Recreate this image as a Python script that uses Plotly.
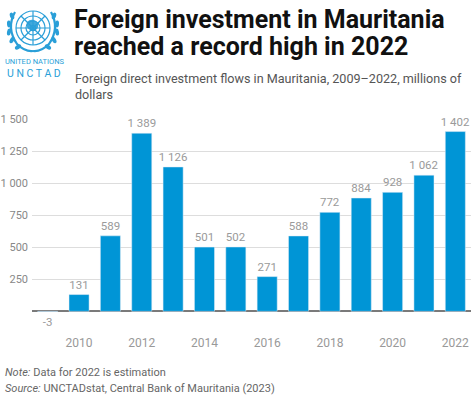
import base64
import plotly.graph_objects as go

years = [2009, 2010, 2011, 2012, 2013, 2014, 2015, 2016, 2017, 2018, 2019, 2020, 2021, 2022]
fdi = [-3, 131, 589, 1389, 1126, 501, 502, 271, 588, 772, 884, 928, 1062, 1402]
x_ticks = [2010, 2012, 2014, 2016, 2018, 2020, 2022]
y_ticks = [250, 500, 750, 1000, 1250, 1500]

W, H = 474, 396
L, R, T, B = 32, 3, 119, 84

BLUE = "#0095D6"
LOGO = "#2A9FD8"

fig = go.Figure()
fig.add_trace(go.Bar(
    x=years, y=fdi, marker_color=BLUE, width=0.64,
    texttemplate="%{y:,}", textposition="outside", constraintext="none",
    textfont=dict(family="Roboto", size=11.5, color="#9a9a9a"),
    cliponaxis=False, hoverinfo="skip",
))

# UN emblem as SVG image
svg = f'''<svg xmlns="http://www.w3.org/2000/svg" width="60" height="54" viewBox="0 0 60 54">
<g fill="none" stroke="{LOGO}" stroke-width="1.2">
<circle cx="30" cy="26" r="17"/>
<circle cx="30" cy="26" r="12"/>
<circle cx="30" cy="26" r="7"/>
<circle cx="30" cy="26" r="2.5"/>
<line x1="13" y1="26" x2="47" y2="26"/>
<line x1="30" y1="9" x2="30" y2="43"/>
<line x1="18" y1="14" x2="42" y2="38"/>
<line x1="42" y1="14" x2="18" y2="38"/>
<path d="M12 10 Q3 26 14 42 Q22 50 30 49" stroke-width="2.2"/>
<path d="M48 10 Q57 26 46 42 Q38 50 30 49" stroke-width="2.2"/>
</g>
<g fill="{LOGO}">
<ellipse cx="9" cy="14" rx="2" ry="3.5" transform="rotate(-20 9 14)"/>
<ellipse cx="6" cy="22" rx="2" ry="3.5" transform="rotate(-5 6 22)"/>
<ellipse cx="6" cy="30" rx="2" ry="3.5" transform="rotate(10 6 30)"/>
<ellipse cx="9" cy="38" rx="2" ry="3.5" transform="rotate(30 9 38)"/>
<ellipse cx="15" cy="45" rx="2" ry="3.5" transform="rotate(55 15 45)"/>
<ellipse cx="51" cy="14" rx="2" ry="3.5" transform="rotate(20 51 14)"/>
<ellipse cx="54" cy="22" rx="2" ry="3.5" transform="rotate(5 54 22)"/>
<ellipse cx="54" cy="30" rx="2" ry="3.5" transform="rotate(-10 54 30)"/>
<ellipse cx="51" cy="38" rx="2" ry="3.5" transform="rotate(-30 51 38)"/>
<ellipse cx="45" cy="45" rx="2" ry="3.5" transform="rotate(-55 45 45)"/>
<path d="M24 20 Q28 16 33 19 Q37 22 34 27 Q30 31 27 28 Q22 25 24 20 Z" opacity="0.9"/>
</g>
</svg>'''
src = "data:image/svg+xml;base64," + base64.b64encode(svg.encode()).decode()

pw, ph = W - L - R, H - T - B
def px(X): return (X - L) / pw
def py(Y): return (H - B - Y) / ph

fig.add_layout_image(dict(source=src, xref="paper", yref="paper",
                          x=px(3), y=py(2), sizex=60 / pw, sizey=54 / ph,
                          xanchor="left", yanchor="top", sizing="stretch", layer="above"))

TITLE_FONT = dict(family="Roboto", size=25, color="#111111")
SUB_FONT = dict(family="Roboto", size=12.6, color="#555555")
NOTE_FONT = dict(family="Roboto", size=11, color="#666666")
anns = [
    dict(text="<b>Foreign investment in Mauritania</b>", x=px(72), y=py(3), font=TITLE_FONT),
    dict(text="<b>reached a record high in 2022</b>", x=px(72), y=py(30), font=TITLE_FONT),
    dict(text="Foreign direct investment flows in Mauritania, 2009–2022, millions of",
         x=px(73), y=py(69), font=SUB_FONT),
    dict(text="dollars", x=px(73), y=py(85), font=SUB_FONT),
    dict(text="UNITED NATIONS", x=px(3), y=py(55),
         font=dict(family="Roboto", size=7.5, color=LOGO)),
    dict(text="U N C T A D", x=px(5), y=py(65),
         font=dict(family="Roboto", size=10.5, color=LOGO)),
    dict(text="<i>Note:</i> Data for 2022 is estimation", x=px(3), y=py(364), font=NOTE_FONT),
    dict(text="<i>Source:</i> UNCTADstat, Central Bank of Mauritania (2023)", x=px(3), y=py(380),
         font=NOTE_FONT),
]
for a in anns:
    a.update(xref="paper", yref="paper", xanchor="left", yanchor="top",
             showarrow=False, align="left")
    fig.add_annotation(**a)

fig.update_layout(
    width=W, height=H, margin=dict(l=L, r=R, t=T, b=B, autoexpand=False),
    paper_bgcolor="white", plot_bgcolor="white",
    separators=". ", showlegend=False,
    font=dict(family="Roboto", color="#888888"),
    xaxis=dict(range=[2008.5, 2022.5], tickvals=x_ticks, showgrid=False,
               ticks="", ticklen=0, tickfont=dict(size=12, color="#999999"),
               showline=False, zeroline=False, automargin=False),
    yaxis=dict(range=[-5, 1500], tickvals=y_ticks, tickformat=",",
               gridcolor="#dddddd", gridwidth=1, zeroline=True,
               zerolinecolor="#7a7a7a", zerolinewidth=2, automargin=False,
               tickfont=dict(size=11, color="#888888"), ticks="", ticklabelstandoff=3),
)
fig.update_xaxes(ticklabelstandoff=22)

fig.write_html("out.html", config={"displayModeBar": False},
               post_script="document.body.style.margin='0';")
